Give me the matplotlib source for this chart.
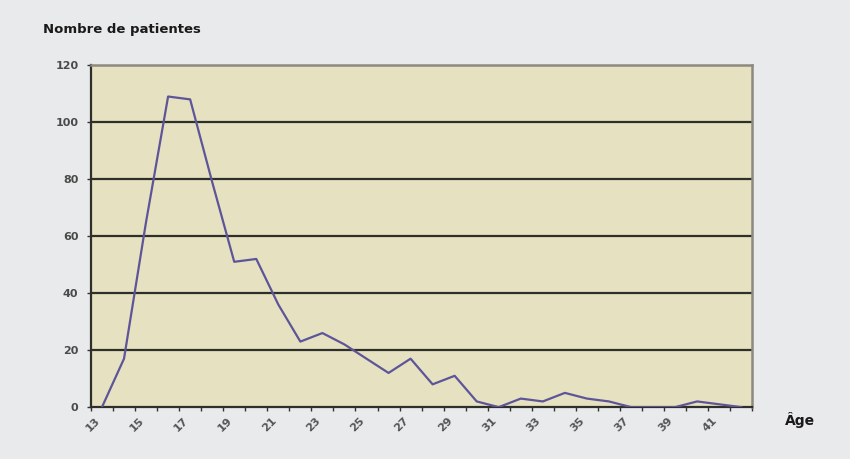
import matplotlib.pyplot as plt
import numpy as np

# nombre de patientes par age
ages = list(range(13, 43))
patientes = [0, 17, 65, 109, 108, 79, 51, 52, 36, 23,
             26, 22, 17, 12, 17, 8, 11, 2, 0, 3,
             2, 5, 3, 2, 0, 0, 0, 2, 1, 0]
y_ticks = [0, 20, 40, 60, 80, 100, 120]

fond = '#e9eaec'
zone = '#e6e2c1'
trait = '#5e5599'

fig = plt.figure(figsize=(8.5, 4.59), dpi=100, facecolor=fond)
ax = fig.add_axes([0.107, 0.113, 0.778, 0.745])
ax.set_facecolor(zone)

x = np.arange(len(ages))
ax.plot(x, patientes, color=trait, lw=1.6, zorder=3)

ax.set_xlim(-0.5, len(ages) - 0.5)
ax.set_ylim(0, 120)

# lignes horizontales
for v in y_ticks[1:-1]:
    ax.axhline(v, color='#2e2e2a', lw=1.6, zorder=2)

ax.set_yticks(y_ticks)
ax.set_yticklabels([str(v) for v in y_ticks], fontsize=8, color='#4a4a4a',
                   fontweight='bold')
ax.tick_params(axis='y', length=3, width=1, color='#333333', pad=6)

# graduations entre les categories, etiquettes un age sur deux
ax.set_xticks(np.arange(len(ages) + 1) - 0.5, minor=True)
ax.set_xticks(x[::2])
ax.set_xticklabels([str(a) for a in ages[::2]], rotation=45, ha='right',
                   fontsize=8, color='#555555', fontweight='bold')
ax.tick_params(axis='x', which='major', length=0, pad=6)
ax.tick_params(axis='x', which='minor', length=3, width=1, color='#333333')

for s in ['left', 'bottom']:
    ax.spines[s].set_color('#2e2e2a')
    ax.spines[s].set_linewidth(1.6)
for s in ['top', 'right']:
    ax.spines[s].set_color('#8c8a80')
    ax.spines[s].set_linewidth(1.8)

fig.text(43 / 850, 1 - 30 / 459, 'Nombre de patientes', fontsize=9.5,
         fontweight='bold', color='#1a1a1a', va='center', ha='left')
fig.text(800 / 850, 1 - 420 / 459, 'Âge', fontsize=10,
         fontweight='bold', color='#1a1a1a', va='center', ha='center')

fig.savefig('out.png', dpi=100, facecolor=fond)
